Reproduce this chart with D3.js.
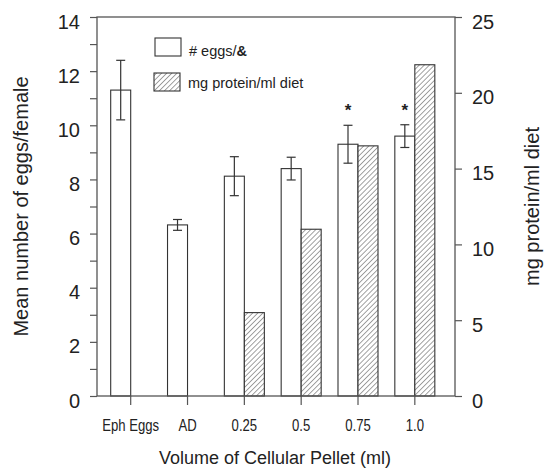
<!DOCTYPE html>
<html>
<head>
<meta charset="utf-8">
<script src="https://cdn.jsdelivr.net/npm/d3@7"></script>
<style>
  html, body { margin: 0; padding: 0; background: #fff; }
  svg { display: block; }
  text { font-family: "Liberation Sans", Arial, sans-serif; fill: #222; }
</style>
</head>
<body>
<svg id="chart" width="545" height="469"></svg>
<script>
// ---- data ----
const categories = ["Eph Eggs", "AD", "0.25", "0.5", "0.75", "1.0"];
const eggsMean = [11.3, 6.32, 8.12, 8.4, 9.3, 9.6];
const eggsErr = [1.1, 0.2, 0.72, 0.42, 0.7, 0.42];
const proteinMgMl = [0, 0, 5.5, 11.0, 16.5, 21.85];
const significant = ["0.75", "1.0"];
const leftTicks = [0, 2, 4, 6, 8, 10, 12, 14];
const leftMinorTicks = [1, 3, 5, 7, 9, 11, 13];
const rightTicks = [0, 5, 10, 15, 20, 25];
const legendLabels = ["# eggs/", "mg protein/ml diet"];

// ---- layout ----
const L = 97, R = 455, T = 17, B = 396;
const barW = 20;
const frameColor = "#555";
const barStroke = "#333";

const svg = d3.select("#chart");

const defs = svg.append("defs");
const pat = defs.append("pattern")
  .attr("id", "hatch")
  .attr("patternUnits", "userSpaceOnUse")
  .attr("width", 3.6).attr("height", 3.6)
  .attr("patternTransform", "rotate(45)");
pat.append("rect").attr("width", 3.6).attr("height", 3.6).attr("fill", "#fff");
pat.append("line").attr("x1", 0).attr("y1", 0).attr("x2", 0).attr("y2", 3.6)
  .attr("stroke", "#555").attr("stroke-width", 1.1);

const x = d3.scaleBand().domain(categories).range([L, R])
  .paddingInner(0).paddingOuter(0.15).align(0.31);
const yL = d3.scaleLinear().domain([0, 14]).range([B, T]);
const yR = d3.scaleLinear().domain([0, 25]).range([B, T]);
const cx = c => x(c) + x.bandwidth() / 2;

// bars - eggs (white)
svg.append("g").selectAll("rect").data(categories).join("rect")
  .attr("x", c => cx(c) - barW)
  .attr("y", (c, i) => yL(eggsMean[i]))
  .attr("width", barW)
  .attr("height", (c, i) => B - yL(eggsMean[i]))
  .attr("fill", "#fff").attr("stroke", barStroke).attr("stroke-width", 1.1);

// bars - protein (hatched)
svg.append("g").selectAll("rect").data(categories).join("rect")
  .attr("x", c => cx(c))
  .attr("y", (c, i) => yR(proteinMgMl[i]))
  .attr("width", barW)
  .attr("height", (c, i) => B - yR(proteinMgMl[i]))
  .attr("fill", "url(#hatch)").attr("stroke", barStroke)
  .attr("stroke-width", (c, i) => proteinMgMl[i] === 0 ? 2.2 : 1.1);

// error bars
const eg = svg.append("g").attr("stroke", "#333").attr("stroke-width", 1.2);
categories.forEach((c, i) => {
  const xc = cx(c) - barW / 2;
  const y1 = yL(eggsMean[i] + eggsErr[i]), y0 = yL(eggsMean[i] - eggsErr[i]);
  eg.append("line").attr("x1", xc).attr("x2", xc).attr("y1", y1).attr("y2", y0);
  eg.append("line").attr("x1", xc - 4.5).attr("x2", xc + 4.5).attr("y1", y1).attr("y2", y1);
  eg.append("line").attr("x1", xc - 4.5).attr("x2", xc + 4.5).attr("y1", y0).attr("y2", y0);
});

// significance stars
svg.append("g").selectAll("text").data(significant).join("text")
  .attr("x", c => cx(c) - barW / 2)
  .attr("y", c => { const i = categories.indexOf(c); return yL(eggsMean[i] + eggsErr[i]) - 9; })
  .attr("text-anchor", "middle")
  .style("font-size", "17px").style("font-weight", "bold")
  .text("*");

// frame
svg.append("rect").attr("x", L).attr("y", T).attr("width", R - L).attr("height", B - T)
  .attr("fill", "none").attr("stroke", frameColor).attr("stroke-width", 1.3);

// left axis
const gl = svg.append("g").attr("transform", `translate(${L},0)`)
  .call(d3.axisLeft(yL).tickValues(leftTicks.concat(leftMinorTicks)).tickSize(7)
    .tickFormat(d => leftTicks.includes(d) ? d : ""));
gl.select(".domain").remove();
gl.selectAll("line").attr("stroke", frameColor).attr("stroke-width", 1.2);
gl.selectAll("text").attr("x", -17).attr("dy", "0.55em")
  .style("font-size", "20px").style("font-family", "'Liberation Sans', Arial, sans-serif").attr("fill", "#222");

// right axis
const gr = svg.append("g").attr("transform", `translate(${R},0)`)
  .call(d3.axisRight(yR).tickValues(rightTicks).tickSize(7));
gr.select(".domain").remove();
gr.selectAll("line").attr("stroke", frameColor).attr("stroke-width", 1.2);
gr.selectAll("text").attr("x", 17).attr("dy", "0.55em")
  .style("font-size", "20px").style("font-family", "'Liberation Sans', Arial, sans-serif").attr("fill", "#222");

// bottom axis
const gb = svg.append("g").attr("transform", `translate(0,${B})`)
  .call(d3.axisBottom(x).tickSize(9));
gb.select(".domain").remove();
gb.selectAll("line").attr("stroke", frameColor).attr("stroke-width", 1.2);
gb.selectAll("text").attr("y", 35).attr("dy", 0)
  .attr("transform", "scale(0.82,1)")
  .style("font-size", "16px").style("font-family", "'Liberation Sans', Arial, sans-serif")
  .attr("fill", "#222");

// axis titles
svg.append("text").attr("transform", `translate(28,${(T + B) / 2}) rotate(-90)`)
  .attr("text-anchor", "middle").style("font-size", "20px")
  .text("Mean number of eggs/female");
svg.append("text").attr("transform", `translate(539,${(T + B) / 2}) rotate(-90)`)
  .attr("text-anchor", "middle").style("font-size", "20px")
  .text("mg protein/ml diet");
svg.append("text").attr("x", 275).attr("y", 464)
  .attr("text-anchor", "middle").style("font-size", "18px")
  .text("Volume of Cellular Pellet (ml)");

// legend
const lg = svg.append("g");
lg.append("rect").attr("x", 155).attr("y", 38).attr("width", 26).attr("height", 18)
  .attr("fill", "#fff").attr("stroke", barStroke).attr("stroke-width", 1.1);
lg.append("rect").attr("x", 154).attr("y", 73).attr("width", 26).attr("height", 18)
  .attr("fill", "url(#hatch)").attr("stroke", barStroke).attr("stroke-width", 1.1);
const t1 = lg.append("text").attr("x", 189).attr("y", 56).style("font-size", "14.5px");
t1.append("tspan").text(legendLabels[0]);
t1.append("tspan").style("font-weight", "bold").text("&");
lg.append("text").attr("x", 188).attr("y", 88).style("font-size", "14.5px").text(legendLabels[1]);
</script>
</body>
</html>
